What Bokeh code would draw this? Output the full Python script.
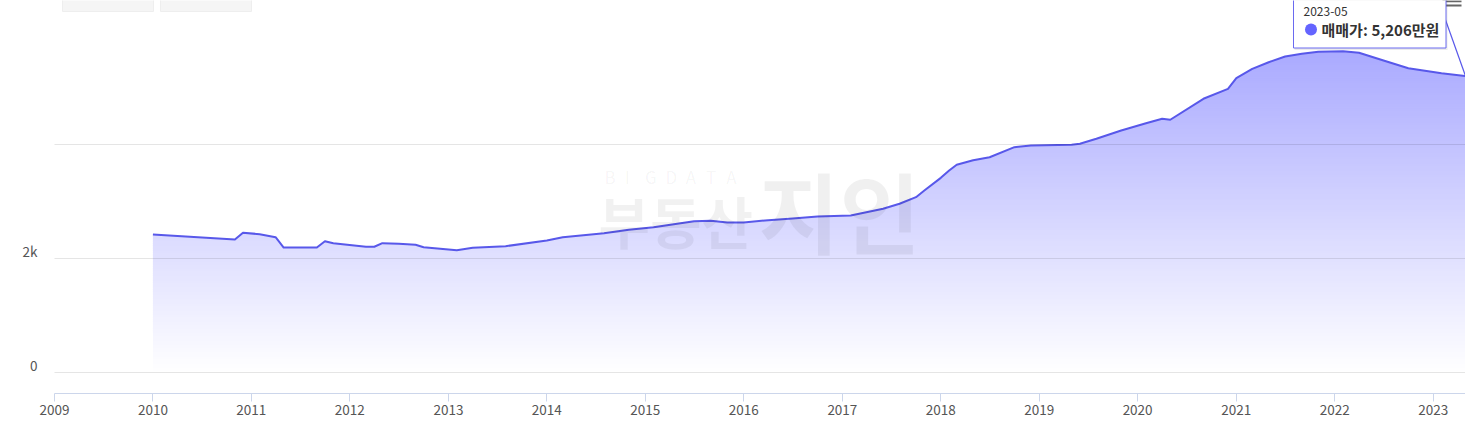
import numpy as np
from bokeh.plotting import figure
from bokeh.models import Range1d, LinearAxis, FixedTicker, DatetimeTickFormatter, Grid
from bokeh.core.properties import value
from bokeh.embed import file_html
from bokeh.resources import INLINE

# ---------------- data ----------------
SERIES_NAME = "매매가"
UNIT = "만원"
MONTHS = ["2010-01", "2010-11", "2010-12", "2011-02", "2011-04", "2011-05", "2011-09",
          "2011-10", "2011-11", "2012-03", "2012-04", "2012-05", "2012-07", "2012-09",
          "2012-10", "2013-02", "2013-04", "2013-08", "2014-01", "2014-03", "2014-08",
          "2014-11", "2015-02", "2015-07", "2015-09", "2015-11", "2016-01", "2016-04",
          "2016-07", "2016-10", "2017-02", "2017-06", "2017-08", "2017-10", "2017-11",
          "2018-01", "2018-02", "2018-03", "2018-05", "2018-07", "2018-10", "2018-12",
          "2019-05", "2019-06", "2019-08", "2019-11", "2020-02", "2020-04", "2020-05",
          "2020-09", "2020-12", "2021-01", "2021-03", "2021-05", "2021-07", "2021-09",
          "2021-11", "2022-02", "2022-04", "2022-07", "2022-10", "2023-02", "2023-05"]
PRICES = [2426, 2339, 2456, 2432, 2379, 2198, 2198,
          2309, 2274, 2211, 2211, 2274, 2263, 2246,
          2204, 2151, 2193, 2221, 2321, 2379, 2449,
          2509, 2554, 2660, 2667, 2637, 2637, 2677,
          2707, 2742, 2760, 2877, 2965, 3081, 3198,
          3420, 3549, 3650, 3730, 3782, 3958, 3988,
          4000, 4018, 4105, 4251, 4379, 4456, 4439,
          4807, 4982, 5170, 5333, 5449, 5549, 5596,
          5632, 5642, 5614, 5479, 5344, 5256, 5206]
TICK_YEARS = list(range(2009, 2024))
Y_GRID = [0, 2000, 4000]
Y_LABELS = {0: "0", 2000: "2k"}
AXIS_START = "2009-01"

# ---------------- style / layout ----------------
FONT = "Noto Sans CJK KR"
SERIES_RGB = (100, 100, 255)
LINE_COLOR = "#5858ea"
W, H = 1465, 422
FRAME_L, FRAME_W, FRAME_H = 54, 1411, 393


def ms(s):
    return float(np.datetime64(s, "ms").astype(np.int64))


xs = [ms(m) for m in MONTHS]
X0, X1 = ms(AXIS_START), xs[-1]
PX_PER_UNIT = 0.057
Y1 = 372.3 / PX_PER_UNIT
Y0 = Y1 - FRAME_H / PX_PER_UNIT


def wx(px):  # picture pixel -> data x
    return X0 + (px - FRAME_L) / FRAME_W * (X1 - X0)


def wy(py):  # picture pixel -> data y
    return Y1 - py / FRAME_H * (Y1 - Y0)


p = figure(width=W, height=H, x_axis_type="datetime", y_axis_location=None,
           x_range=Range1d(X0, X1), y_range=Range1d(Y0, Y1),
           output_backend="svg", toolbar_location=None,
           min_border_left=FRAME_L, min_border_right=0, min_border_top=0,
           min_border_bottom=H - FRAME_H)
p.outline_line_color = None
p.background_fill_color = "white"
p.border_fill_color = "white"
for g in p.grid:
    g.visible = False

# ---------- gradient area (bands, then white mask above the line) ----------
vmax = max(PRICES)
N = 140
edges = np.linspace(0, vmax, N + 1)
step = vmax / N
band_cols = []
for k in range(N):
    a = 0.55 * ((edges[k] + edges[k + 1]) / 2) / vmax
    r, g_, b = (int(round(255 + (c - 255) * a)) for c in SERIES_RGB)
    band_cols.append("#%02x%02x%02x" % (r, g_, b))
p.quad(left=xs[0], right=xs[-1], bottom=edges[:-1], top=edges[1:] + step * 0.6,
       fill_color=band_cols, line_color=None)
mask_x = [xs[0] - 4 * (X1 - X0) / FRAME_W] + xs
mask_y = [PRICES[0]] + PRICES
p.varea(x=mask_x, y1=mask_y, y2=Y1, fill_color="white")
p.line(xs, PRICES, line_color=LINE_COLOR, line_width=2, line_join="round")

# ---------- watermark ----------
wm_letters = list("BIGDATA")
p.text(x=[wx(604 + i * 20.3) for i in range(len(wm_letters))], y=wy(176), text=wm_letters,
       text_font=value(FONT), text_font_size="17px", text_color="black", text_alpha=0.05,
       text_baseline="middle", text_align="left")
p.text(x=[wx(598)], y=[wy(219)], text=["부동산"], text_font=value(FONT),
       text_font_size="56px", text_font_style="bold", text_color="black",
       text_alpha=0.055, text_baseline="middle", text_align="left")
p.text(x=[wx(758)], y=[wy(208)], text=["지인"], text_font=value(FONT),
       text_font_size="88px", text_font_style="bold", text_color="black",
       text_alpha=0.06, text_baseline="middle", text_align="left")

# ---------- grid ----------
p.add_layout(Grid(dimension=1, ticker=FixedTicker(ticks=Y_GRID), grid_line_color="black",
                  grid_line_alpha=0.1, level="overlay"), "center")

# ---------- top buttons (cut off by the picture edge) ----------
p.quad(left=[wx(62), wx(160)], right=[wx(153), wx(251)], bottom=wy(11), top=wy(-20),
       fill_color="#f5f5f5", line_color="#eeeeee")

# ---------- menu icon (cut off) ----------
p.segment(x0=[wx(1442), wx(1442)], y0=[wy(0.8), wy(5)], x1=[wx(1461), wx(1461)],
          y1=[wy(0.8), wy(5)], line_color="#666666", line_width=2)

# ---------- tooltip ----------
last_x, last_y = xs[-1], PRICES[-1]
p.segment(x0=[wx(1444.5)], y0=[wy(18)], x1=[last_x], y1=[last_y],
          line_color=LINE_COLOR, line_width=1.2)
p.quad(left=[wx(1294)], right=[wx(1447)], bottom=[wy(49.5)], top=[wy(-10)],
       fill_color="black", fill_alpha=0.08, line_color=None)
p.quad(left=[wx(1293)], right=[wx(1445.5)], bottom=[wy(47.5)], top=[wy(-10)],
       fill_color="white", line_color="#6a6af0", line_width=1)
p.text(x=[wx(1303)], y=[wy(11)], text=[MONTHS[-1]], text_font=value(FONT),
       text_font_size="12px", text_color="#333333", text_baseline="middle")
p.scatter(x=[wx(1310.5)], y=[wy(29)], size=12, marker="circle",
          fill_color="#%02x%02x%02x" % SERIES_RGB, line_color=None)
p.text(x=[wx(1321)], y=[wy(29)], text=[SERIES_NAME + ":"], text_font=value(FONT),
       text_font_size="15px", text_font_style="bold", text_color="#333333",
       text_baseline="middle")
p.text(x=[wx(1371)], y=[wy(29)], text=[f"{last_y:,}{UNIT}"], text_font=value(FONT),
       text_font_size="15px", text_font_style="bold", text_color="#333333",
       text_baseline="middle")

# ---------- axes ----------
xa = p.xaxis[0]
xa.ticker = FixedTicker(ticks=[ms(f"{y}-01") for y in TICK_YEARS])
xa.formatter = DatetimeTickFormatter(years="%Y", months="%Y", days="%Y", hours="%Y",
                                     minutes="%Y", seconds="%Y", milliseconds="%Y")
xa.axis_line_color = "#ccd6eb"
xa.major_tick_line_color = "#ccd6eb"
xa.major_tick_out = 8
xa.major_tick_in = 0
xa.minor_tick_line_color = None
xa.major_label_text_color = "#555555"
xa.major_label_text_font = FONT
xa.major_label_text_font_size = "13.5px"
xa.major_label_standoff = 3

OFF = 8 * (Y1 - Y0) / FRAME_H
p.extra_y_ranges = {"lab": Range1d(Y0 - OFF, Y1 - OFF)}
ya = LinearAxis(y_range_name="lab", ticker=FixedTicker(ticks=list(Y_LABELS)),
                major_label_overrides=Y_LABELS, axis_line_color=None,
                major_tick_line_color=None, minor_tick_line_color=None,
                major_tick_out=0, major_tick_in=0, major_label_standoff=17,
                major_label_text_color="#555555", major_label_text_font=FONT,
                major_label_text_font_size="13.5px")
p.add_layout(ya, "left")

open("out.html", "w").write(file_html(p, INLINE))
